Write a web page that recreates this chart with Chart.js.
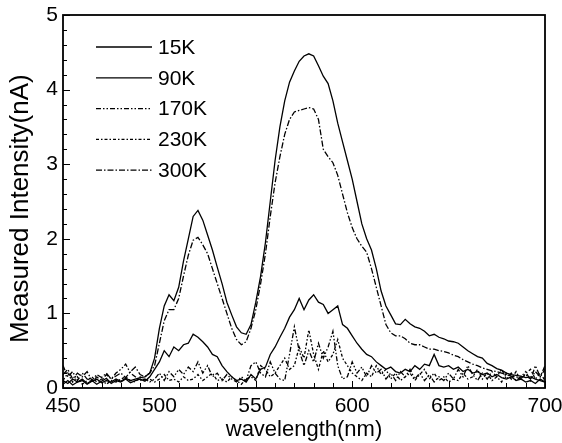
<!DOCTYPE html>
<html>
<head>
<meta charset="utf-8">
<script src="https://cdn.jsdelivr.net/npm/chart.js@4"></script>
<style>
  html, body { margin: 0; padding: 0; background: #fff; }
  #wrap { width: 562px; height: 443px; }
</style>
</head>
<body>
<div id="wrap"><canvas id="chart" width="562" height="443"></canvas></div>
<script>
// wavelength (nm), 2.5 nm steps
const wavelengths = [
  450, 452.5, 455, 457.5, 460, 462.5, 465, 467.5, 470, 472.5,
  475, 477.5, 480, 482.5, 485, 487.5, 490, 492.5, 495, 497.5,
  500, 502.5, 505, 507.5, 510, 512.5, 515, 517.5, 520, 522.5,
  525, 527.5, 530, 532.5, 535, 537.5, 540, 542.5, 545, 547.5,
  550, 552.5, 555, 557.5, 560, 562.5, 565, 567.5, 570, 572.5,
  575, 577.5, 580, 582.5, 585, 587.5, 590, 592.5, 595, 597.5,
  600, 602.5, 605, 607.5, 610, 612.5, 615, 617.5, 620, 622.5,
  625, 627.5, 630, 632.5, 635, 637.5, 640, 642.5, 645, 647.5,
  650, 652.5, 655, 657.5, 660, 662.5, 665, 667.5, 670, 672.5,
  675, 677.5, 680, 682.5, 685, 687.5, 690, 692.5, 695, 697.5,
  700
];

// measured intensity (nA)
const k15 = [
  0.10, 0.06, 0.12, 0.08, 0.10, 0.05, 0.09, 0.12, 0.07, 0.10,
  0.08, 0.12, 0.09, 0.13, 0.10, 0.12, 0.14, 0.15, 0.20, 0.40,
  0.80, 1.10, 1.25, 1.17, 1.35, 1.70, 2.00, 2.30, 2.38, 2.25,
  2.05, 1.85, 1.62, 1.40, 1.15, 0.98, 0.82, 0.74, 0.72, 0.85,
  1.15, 1.50, 1.95, 2.50, 3.05, 3.50, 3.85, 4.10, 4.25, 4.38,
  4.45, 4.48, 4.45, 4.32, 4.18, 4.08, 3.85, 3.55, 3.30, 3.05,
  2.80, 2.50, 2.20, 2.00, 1.85, 1.60, 1.30, 1.10, 0.98, 0.86,
  0.85, 0.92, 0.86, 0.82, 0.80, 0.76, 0.70, 0.72, 0.68, 0.66,
  0.63, 0.62, 0.60, 0.55, 0.50, 0.46, 0.42, 0.40, 0.33, 0.30,
  0.26, 0.24, 0.20, 0.18, 0.17, 0.16, 0.14, 0.15, 0.12, 0.10,
  0.08
];
const k90 = [
  0.05, 0.10, 0.04, 0.08, 0.12, 0.06, 0.10, 0.05, 0.09, 0.13,
  0.06, 0.10, 0.08, 0.12, 0.07, 0.10, 0.12, 0.09, 0.15, 0.25,
  0.35, 0.50, 0.42, 0.55, 0.50, 0.58, 0.60, 0.72, 0.68, 0.62,
  0.55, 0.45, 0.42, 0.30, 0.22, 0.15, 0.10, 0.12, 0.08, 0.18,
  0.12, 0.25, 0.28, 0.45, 0.55, 0.68, 0.80, 0.95, 1.05, 1.20,
  1.05, 1.18, 1.25, 1.15, 1.12, 1.00, 1.05, 1.10, 0.85, 0.80,
  0.70, 0.60, 0.52, 0.45, 0.42, 0.35, 0.30, 0.25, 0.28, 0.22,
  0.20, 0.25, 0.22, 0.30, 0.25, 0.32, 0.30, 0.45, 0.30, 0.28,
  0.30, 0.25, 0.28, 0.22, 0.25, 0.20, 0.22, 0.18, 0.20, 0.15,
  0.18, 0.14, 0.12, 0.15, 0.10, 0.12, 0.08, 0.10, 0.06, 0.12,
  0.08
];
const k170 = [
  0.30, 0.15, 0.22, 0.10, 0.20, 0.12, 0.08, 0.15, 0.10, 0.18,
  0.12, 0.20, 0.25, 0.32, 0.20, 0.15, 0.10, 0.12, 0.08, 0.12,
  0.20, 0.10, 0.22, 0.15, 0.25, 0.18, 0.28, 0.22, 0.35, 0.20,
  0.30, 0.15, 0.20, 0.10, 0.18, 0.12, 0.08, 0.15, 0.10, 0.30,
  0.35, 0.20, 0.15, 0.35, 0.20, 0.12, 0.10, 0.45, 0.82, 0.50,
  0.30, 0.50, 0.35, 0.60, 0.40, 0.55, 0.76, 0.30, 0.12, 0.15,
  0.35, 0.20, 0.28, 0.15, 0.30, 0.20, 0.25, 0.12, 0.20, 0.10,
  0.22, 0.15, 0.25, 0.12, 0.20, 0.10, 0.18, 0.08, 0.15, 0.10,
  0.20, 0.12, 0.25, 0.15, 0.30, 0.18, 0.10, 0.20, 0.12, 0.22,
  0.15, 0.25, 0.12, 0.20, 0.10, 0.15, 0.22, 0.10, 0.30, 0.15,
  0.30
];
const k230 = [
  0.10, 0.20, 0.08, 0.15, 0.05, 0.10, 0.15, 0.08, 0.12, 0.05,
  0.10, 0.08, 0.12, 0.15, 0.10, 0.08, 0.15, 0.10, 0.12, 0.08,
  0.12, 0.18, 0.10, 0.12, 0.08, 0.15, 0.10, 0.12, 0.18, 0.10,
  0.15, 0.20, 0.10, 0.12, 0.08, 0.15, 0.10, 0.05, 0.12, 0.15,
  0.10, 0.30, 0.25, 0.15, 0.20, 0.30, 0.40, 0.25, 0.30, 0.55,
  0.40, 0.78, 0.45, 0.25, 0.50, 0.35, 0.45, 0.65, 0.40, 0.30,
  0.20, 0.15, 0.10, 0.20, 0.15, 0.30, 0.18, 0.25, 0.12, 0.20,
  0.10, 0.15, 0.20, 0.10, 0.18, 0.25, 0.12, 0.20, 0.10, 0.15,
  0.08, 0.12, 0.10, 0.20, 0.12, 0.15, 0.25, 0.12, 0.20, 0.10,
  0.15, 0.08, 0.20, 0.12, 0.22, 0.10, 0.20, 0.25, 0.12, 0.20,
  0.10
];
const k300 = [
  0.18, 0.25, 0.12, 0.20, 0.15, 0.22, 0.10, 0.18, 0.14, 0.20,
  0.12, 0.16, 0.20, 0.14, 0.22, 0.28, 0.18, 0.15, 0.20, 0.30,
  0.60, 0.90, 1.05, 1.05, 1.20, 1.50, 1.78, 1.98, 2.02, 1.92,
  1.80, 1.60, 1.40, 1.20, 1.00, 0.80, 0.65, 0.58, 0.62, 0.80,
  1.05, 1.40, 1.80, 2.30, 2.75, 3.10, 3.40, 3.60, 3.70, 3.72,
  3.74, 3.76, 3.74, 3.60, 3.20, 3.10, 3.02, 2.85, 2.60, 2.35,
  2.15, 2.00, 1.90, 1.82, 1.60, 1.35, 1.10, 0.85, 0.74, 0.70,
  0.70, 0.66, 0.60, 0.58, 0.58, 0.55, 0.52, 0.52, 0.50, 0.49,
  0.47, 0.44, 0.42, 0.38, 0.35, 0.32, 0.30, 0.27, 0.25, 0.23,
  0.22, 0.20, 0.18, 0.16, 0.15, 0.13, 0.18, 0.12, 0.22, 0.15,
  0.25
];

const seriesLabels = ['15K', '90K', '170K', '230K', '300K'];
const seriesValues = [k15, k90, k170, k230, k300];
const seriesDash = [[], [], [5, 2, 1.5, 2, 1.5, 2], [3, 2, 1.5, 2], [6, 2, 1.5, 2]];

const FONT = '"Liberation Sans", Arial, sans-serif';

const datasets = seriesLabels.map((label, i) => ({
  label,
  data: wavelengths.map((w, j) => ({ x: w, y: seriesValues[i][j] })),
  borderColor: '#000',
  borderWidth: 1.3,
  borderDash: seriesDash[i],
  pointRadius: 0,
  fill: false,
  tension: 0
}));

// box frame with inward ticks (major + minor)
const frameTicks = {
  id: 'frameTicks',
  afterDatasetsDraw(chart) {
    const { ctx, chartArea: { left, right, top, bottom }, scales: { x, y } } = chart;
    ctx.save();
    ctx.strokeStyle = '#000';
    ctx.lineWidth = 1;
    for (let v = 450; v <= 700; v += 10) {
      const px = Math.round(x.getPixelForValue(v)) + 0.5;
      const len = v % 50 === 0 ? 7 : 5;
      ctx.beginPath(); ctx.moveTo(px, bottom); ctx.lineTo(px, bottom - len); ctx.stroke();
    }
    for (let i = 0; i <= 25; i++) {
      const py = Math.round(y.getPixelForValue(i / 5)) + 0.5;
      const len = i % 5 === 0 ? 7 : 4;
      ctx.beginPath(); ctx.moveTo(left, py); ctx.lineTo(left + len, py); ctx.stroke();
    }
    ctx.lineWidth = 1.8;
    ctx.strokeRect(left, top, right - left, bottom - top);
    ctx.restore();
  }
};

// legend drawn inside the plot, top-left
const insideLegend = {
  id: 'insideLegend',
  afterDraw(chart) {
    const { ctx, chartArea: { top } } = chart;
    ctx.save();
    ctx.font = '21px ' + FONT;
    ctx.fillStyle = '#000';
    ctx.textBaseline = 'middle';
    chart.data.datasets.forEach((ds, i) => {
      const yy = top + 32 + i * 30.8;
      ctx.strokeStyle = '#000';
      ctx.lineWidth = 1.3;
      ctx.setLineDash(ds.borderDash);
      ctx.beginPath(); ctx.moveTo(96, yy); ctx.lineTo(152, yy); ctx.stroke();
      ctx.setLineDash([]);
      ctx.fillText(ds.label, 158, yy + 1);
    });
    ctx.restore();
  }
};

new Chart(document.getElementById('chart'), {
  type: 'line',
  data: { datasets },
  options: {
    responsive: false,
    animation: false,
    layout: { padding: { left: 0, right: 17, top: 15, bottom: 0 } },
    plugins: { legend: { display: false }, tooltip: { enabled: false } },
    scales: {
      x: {
        type: 'linear',
        min: 450, max: 700,
        ticks: { stepSize: 50, color: '#000', font: { family: FONT, size: 21 }, padding: 6, maxRotation: 0 },
        grid: { display: false, drawTicks: false },
        border: { display: false },
        title: { display: true, text: 'wavelength(nm)', color: '#000', font: { family: FONT, size: 22 }, padding: { top: 0, bottom: 0 } },
        afterFit(s) { s.height = 55; s.paddingLeft = 0; s.paddingRight = 0; }
      },
      y: {
        min: 0, max: 5,
        ticks: { stepSize: 1, color: '#000', font: { family: FONT, size: 21 }, padding: 5 },
        grid: { display: false, drawTicks: false },
        border: { display: false },
        title: { display: true, text: 'Measured Intensity(nA)  ', color: '#000', font: { family: FONT, size: 26 }, padding: { top: 5, bottom: 0 } },
        afterFit(s) { s.width = 63; s.paddingTop = 0; s.paddingBottom = 0; }
      }
    }
  },
  plugins: [frameTicks, insideLegend]
});
</script>
</body>
</html>
